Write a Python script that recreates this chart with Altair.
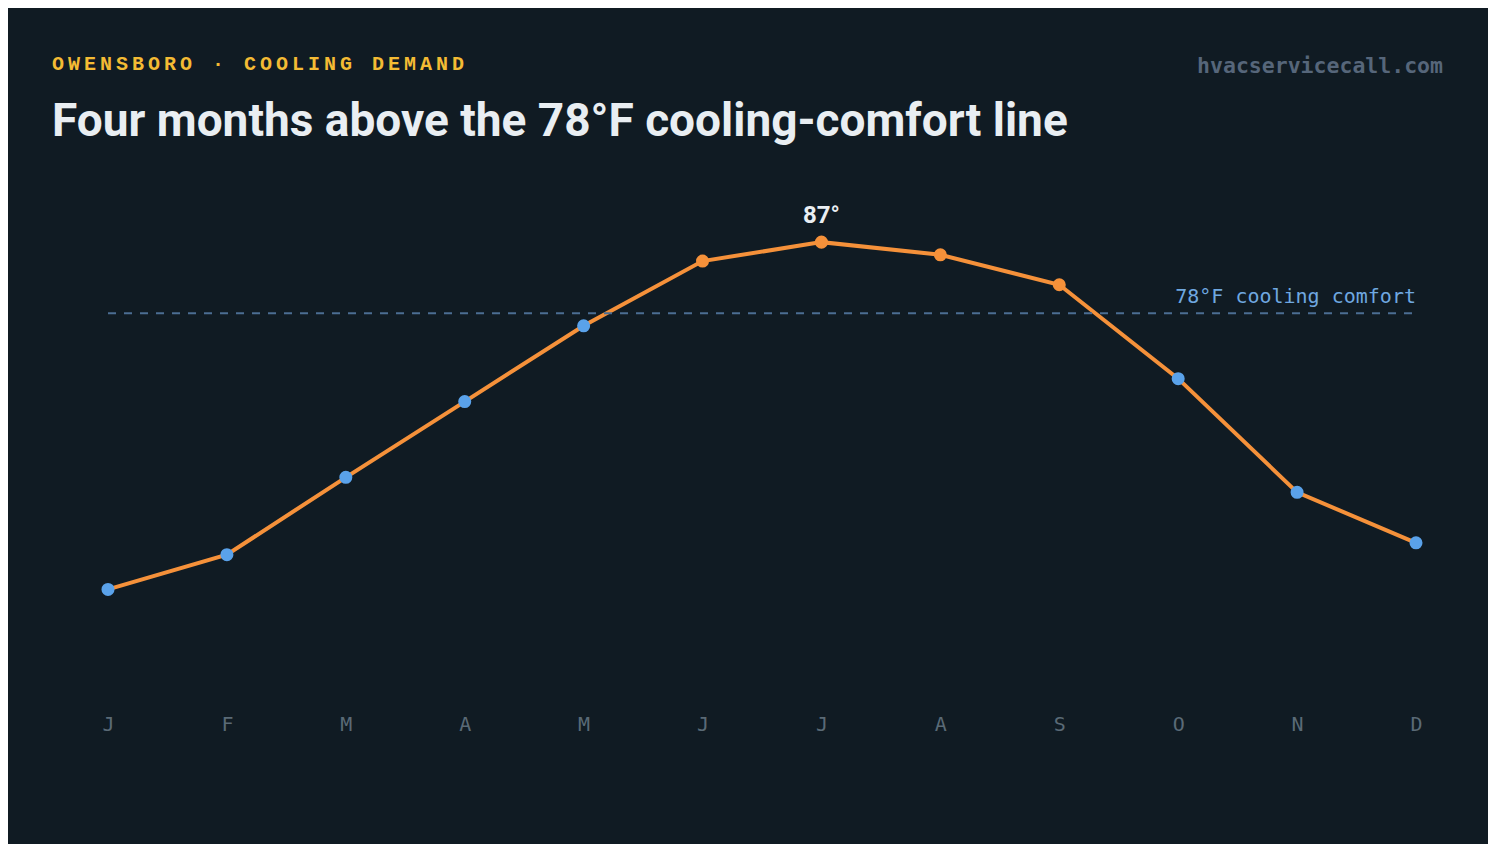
import altair as alt
import pandas as pd

months = ["J", "F", "M", "A", "M", "J", "J", "A", "S", "O", "N", "D"]
month_idx = list(range(12))
temps = [43.0, 47.4, 57.2, 66.8, 76.4, 84.6, 87.0, 85.4, 81.6, 69.7, 55.3, 48.9]
comfort = 78
kicker = "OWENSBORO · COOLING DEMAND"
headline = "Four months above the 78°F cooling-comfort line"
watermark = "hvacservicecall.com"
comfort_label = "78°F cooling comfort"

BG = "#101b23"
ORANGE = "#f5913a"
BLUE = "#5aa2ea"

df = pd.DataFrame({"i": month_idx, "m": months, "t": temps})
df["zone"] = ["above" if v > comfort else "below" for v in temps]
peak = df[df["t"] == df["t"].max()].copy()
peak["lbl"] = [f"{v:.0f}°" for v in peak["t"]]

ref = pd.DataFrame({"x0": [0], "x1": [11], "y": [comfort], "lbl": [comfort_label]})

labels_expr = "[" + ",".join(f"'{m}'" for m in months) + "][datum.value]"

xscale = alt.Scale(domain=[0, 11], nice=False, zero=False)
yscale = alt.Scale(domain=[30, 95], nice=False, zero=False)

x = alt.X("i:Q", scale=xscale,
          axis=alt.Axis(values=month_idx, labelExpr=labels_expr, domain=False, ticks=False,
                        grid=False, labelFont="DejaVu Sans Mono", labelFontSize=20, labelFlush=False,
                        labelColor="#5a6a76", labelPadding=22, title=None))
y = alt.Y("t:Q", scale=yscale, axis=None)

base = alt.Chart(df)

line = base.mark_line(color=ORANGE, strokeWidth=4).encode(x=x, y=y)
rule = alt.Chart(ref).mark_rule(color="#4b6e93", strokeWidth=2, strokeDash=[8, 8]).encode(
    x="x0:Q", x2="x1:Q", y="y:Q")
ref_text = alt.Chart(ref).mark_text(align="right", baseline="alphabetic", dy=-10,
                                    font="DejaVu Sans Mono", fontSize=20, color="#6fa8e0").encode(
    x="x1:Q", y="y:Q", text="lbl:N")
pts = base.mark_circle(size=170, opacity=1).encode(
    x="i:Q", y="t:Q",
    color=alt.Color("zone:N", scale=alt.Scale(domain=["above", "below"], range=[ORANGE, BLUE]), legend=None),
)
peak_text = alt.Chart(peak).mark_text(baseline="alphabetic", dy=-19, font="Roboto", fontWeight="bold",
                                      fontSize=24, color="#e9eef2").encode(x="i:Q", y="t:Q", text="lbl:N")

ann = pd.DataFrame({"k": ["\u2009".join(kicker)], "h": [headline], "w": [watermark]})
kick = alt.Chart(ann).mark_text(align="left", baseline="alphabetic", font="Liberation Mono",
                                fontSize=20, fontWeight="bold", color="#f4bb34").encode(
    x=alt.value(-56), y=alt.value(-109), text="k:N")
head = alt.Chart(ann).mark_text(align="left", baseline="alphabetic", font="Roboto",
                                fontSize=46, fontWeight="bold", color="#e9eef2").encode(
    x=alt.value(-56), y=alt.value(-43), text="h:N")
wm = alt.Chart(ann).mark_text(align="right", baseline="alphabetic", font="DejaVu Sans Mono",
                              fontSize=21.5, fontWeight="bold", color="#56667a").encode(
    x=alt.value(1335), y=alt.value(-106), text="w:N")

chart = alt.layer(line, rule, ref_text, pts, peak_text, kick, head, wm).properties(
    width=1308, height=513,
    autosize=alt.AutoSizeParams(type="none"),
    padding={"left": 100, "right": 72, "top": 171, "bottom": 152},
    background=BG,
).configure_view(stroke=None)

chart.save("out.html", embed_options={"renderer": "svg", "actions": False})
